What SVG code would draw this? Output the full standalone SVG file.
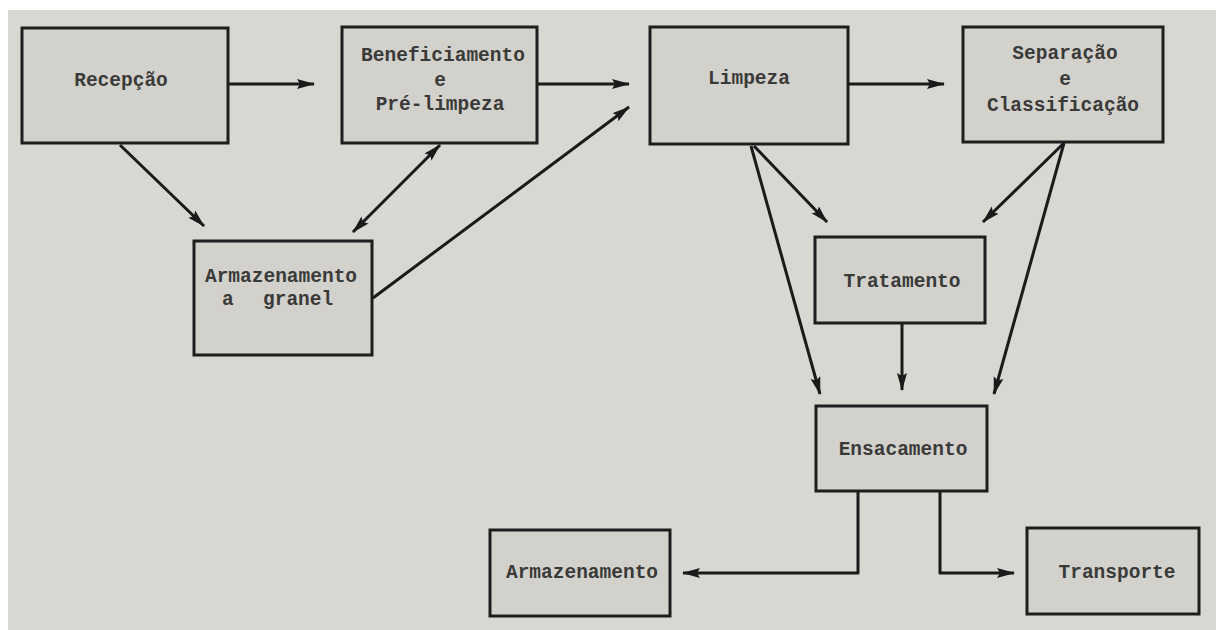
<svg xmlns="http://www.w3.org/2000/svg" width="1216" height="630" viewBox="0 0 1216 630">
<defs>
<style>
.box{fill:#d2d1cc;stroke:#1e1e1e;stroke-width:3}
.lbl{font-family:"Liberation Mono","Courier New",monospace;font-size:19.5px;font-weight:bold;fill:#3a3a38;text-anchor:middle}
.ln{fill:none;stroke:#1a1a1a;stroke-width:3;stroke-linejoin:round}
</style>
<marker id="ah" viewBox="0 0 18 12" refX="17" refY="6" markerWidth="18" markerHeight="12" markerUnits="userSpaceOnUse" orient="auto-start-reverse">
<path d="M0,1 L18,6 L0,11 L3,6 Z" fill="#1a1a1a"/>
</marker>
</defs>
<rect x="0" y="0" width="1216" height="630" fill="#ffffff"/>
<rect x="8" y="10" width="1208" height="620" fill="#d8d7d2"/>

<g id="recepcao"><rect class="box" x="22" y="28" width="206" height="115"/><text class="lbl" x="121" y="86">Recepção</text></g>
<g id="beneficiamento"><rect class="box" x="342" y="27" width="195" height="116"/><text class="lbl" x="443" y="61">Beneficiamento</text><text class="lbl" x="440" y="86">e</text><text class="lbl" x="440" y="110">Pré-limpeza</text></g>
<g id="limpeza"><rect class="box" x="650" y="27" width="198" height="117"/><text class="lbl" x="749" y="84">Limpeza</text></g>
<g id="separacao"><rect class="box" x="963" y="27" width="200" height="115"/><text class="lbl" x="1065" y="59">Separação</text><text class="lbl" x="1065" y="85">e</text><text class="lbl" x="1063" y="111">Classificação</text></g>
<g id="armazenamento-granel"><rect class="box" x="194" y="241" width="178" height="114"/><text class="lbl" x="281" y="282">Armazenamento</text><text class="lbl" style="text-anchor:start" x="222" y="305">a<tspan x="263">granel</tspan></text></g>
<g id="tratamento"><rect class="box" x="815" y="237" width="170" height="86"/><text class="lbl" x="902" y="287">Tratamento</text></g>
<g id="ensacamento"><rect class="box" x="816" y="406" width="171" height="85"/><text class="lbl" x="903" y="455">Ensacamento</text></g>
<g id="armazenamento"><rect class="box" x="490" y="530" width="180" height="86"/><text class="lbl" x="582" y="578">Armazenamento</text></g>
<g id="transporte"><rect class="box" x="1027" y="528" width="172" height="86"/><text class="lbl" x="1117" y="578">Transporte</text></g>

<g id="connectors">
<line class="ln" x1="229" y1="84" x2="314" y2="84" marker-end="url(#ah)"/>
<line class="ln" x1="538" y1="84" x2="629" y2="84" marker-end="url(#ah)"/>
<line class="ln" x1="373" y1="298" x2="629" y2="107" marker-end="url(#ah)"/>
<line class="ln" x1="120" y1="145" x2="204" y2="226" marker-end="url(#ah)"/>
<line class="ln" x1="440" y1="145" x2="353" y2="232" marker-start="url(#ah)" marker-end="url(#ah)"/>
<line class="ln" x1="849" y1="84" x2="944" y2="84" marker-end="url(#ah)"/>
<line class="ln" x1="754" y1="146" x2="827" y2="222" marker-end="url(#ah)"/>
<line class="ln" x1="751" y1="146" x2="820" y2="394" marker-end="url(#ah)"/>
<line class="ln" x1="1064" y1="143" x2="983" y2="222" marker-end="url(#ah)"/>
<line class="ln" x1="1064" y1="143" x2="994" y2="394" marker-end="url(#ah)"/>
<line class="ln" x1="902" y1="324" x2="902" y2="390" marker-end="url(#ah)"/>
<polyline class="ln" points="858,492 858,573 683,573" marker-end="url(#ah)"/>
<polyline class="ln" points="940,492 940,573 1014,573" marker-end="url(#ah)"/>
</g>
</svg>
